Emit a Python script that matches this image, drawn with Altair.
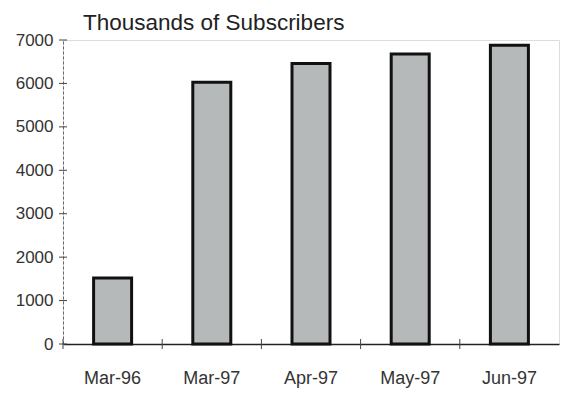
import altair as alt
import pandas as pd

# Subscriber counts (thousands) by month
months = ["Mar-96", "Mar-97", "Apr-97", "May-97", "Jun-97"]
subscribers = [1520, 6030, 6460, 6680, 6880]
y_ticks = [0, 1000, 2000, 3000, 4000, 5000, 6000, 7000]
title_text = ["Thousands of Subscribers"]

bars_df = pd.DataFrame({"month": months, "subs": subscribers})
yt_df = pd.DataFrame({"v": y_ticks})
title_df = pd.DataFrame({"t": title_text})

W, H = 496, 304
FONT = "Liberation Sans"

x_scale = alt.Scale(domain=months, paddingInner=0, paddingOuter=0)
y_scale = alt.Scale(domain=[0, 7000], nice=False)

bars = alt.Chart(bars_df).mark_bar(
    size=38, fill="#b6b9b9", stroke="#111111", strokeWidth=3
).encode(
    x=alt.X(
        "month:N",
        scale=x_scale,
        sort=months,
        axis=alt.Axis(
            title=None,
            labelAngle=0,
            labelFont=FONT,
            labelFontSize=18,
            labelColor="#333333",
            labelPadding=25,
            ticks=False,
            domainColor="#222222",
            domainWidth=1.4,
        ),
    ),
    y=alt.Y(
        "subs:Q",
        scale=y_scale,
        axis=alt.Axis(
            title=None,
            values=y_ticks,
            format="d",
            labelFont=FONT,
            labelFontSize=17,
            labelColor="#333333",
            labelPadding=10,
            ticks=False,
            grid=False,
            domainColor="#666666",
            domainWidth=1,
            domainDash=[3, 2],
        ),
    ),
)

# small cross-ticks on the value axis
y_marks = alt.Chart(yt_df).mark_rule(color="#444444", strokeWidth=1).encode(
    y=alt.Y("v:Q", scale=y_scale),
    x=alt.value(-4),
    x2=alt.value(4),
)

# small cross-ticks at the category boundaries
x_marks = alt.Chart(bars_df).mark_rule(color="#444444", strokeWidth=1).encode(
    x=alt.X("month:N", scale=x_scale, sort=months, bandPosition=0),
    y=alt.value(H - 5),
    y2=alt.value(H + 5),
)

# heading above the plot
heading = alt.Chart(title_df).mark_text(
    align="left", baseline="alphabetic", font=FONT, fontSize=22.5, color="#222222"
).encode(
    text="t:N",
    x=alt.value(20),
    y=alt.value(-10),
)

chart = (
    alt.layer(bars, y_marks, x_marks, heading)
    .properties(
        width=W,
        height=H,
        autosize=alt.AutoSizeParams(type="none"),
        padding={"left": 63, "top": 40, "right": 2, "bottom": 50},
    )
    .configure_view(strokeWidth=0)
    .configure(background="white")
)

chart.save("out.html", embed_options={"renderer": "svg", "actions": False})
